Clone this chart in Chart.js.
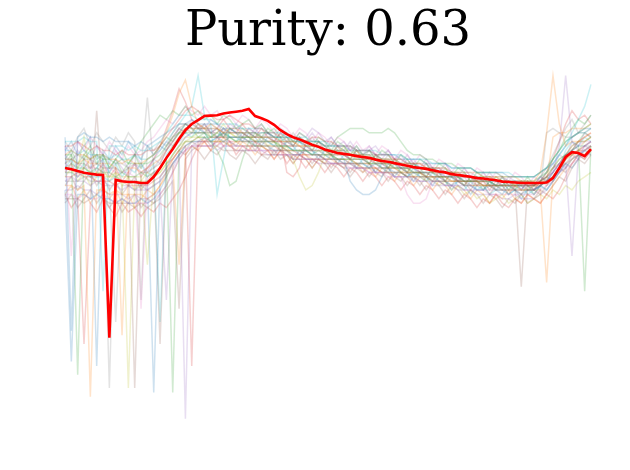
<!DOCTYPE html>
<html>
<head>
<meta charset="utf-8">
<script src="https://cdn.jsdelivr.net/npm/chart.js@4.4.1/dist/chart.umd.min.js"></script>
<style>
html,body{margin:0;padding:0;background:#fff;}
#wrap{width:630px;height:470px;}
</style>
</head>
<body>
<div id="wrap"><canvas id="c" width="630" height="470"></canvas></div>
<script>
const chartTitle = 'Purity: 0.63';

const meanProfile = [0,-0.3,-0.7,-1.1,-1.3,-1.5,-1.6,-38.6,-2.7,-3.0,-3.2,-3.2,-3.4,-3.4,
 -2.0,0,2.3,4.3,6.6,8.6,10.0,10.9,
 11.8,11.9,12.0,12.4,12.6,12.8,13.0,13.4,11.8,11.3,10.7,
 9.8,8.6,7.7,7.0,6.5,5.9,5.3,4.8,4.2,3.8,3.4,3.2,3.0,
 2.7,2.5,2.3,1.9,1.6,1.4,1.1,0.8,0.5,0.2,0,-0.2,-0.5,-0.8,-1.0,
 -1.4,-1.6,-1.8,-2.0,-2.3,-2.4,-2.6,-2.8,-3.1,-3.2,-3.3,-3.4,-3.4,-3.4,
 -3.4,-3.3,-2.3,0,2.5,3.6,3.4,2.7,4.3];

const seriesA = [-5,-44,-6,-6,-7,-6,-7,-7,-8,-7,-8,-8,-7,-8,
 -7,-5,-2,1,3,5,6,6,
 7,6,7,6,7,7,6,6,5,5,5,
 4,4,4,3,3,4,3,3,2,2,2,1,1,
 1,1,0,1,0,0,-1,-1,-2,-1,-2,-2,-3,-3,-3,
 -4,-3,-4,-4,-5,-5,-4,-5,-5,-6,-5,-6,-5,-5,
 -4,-3,-1,1,3,4,5,5,6];
const seriesB = [3,4,3,3,2,3,3,2,2,1,2,1,1,2,
 3,5,8,12,17,20,14,10,
 9,10,9,8,9,9,8,8,8,7,7,
 7,6,6,6,5,5,5,5,4,4,4,3,3,
 3,3,2,2,2,2,1,1,1,0,0,0,-1,-1,-1,
 -1,-2,-2,-2,-3,-3,-3,-2,-3,-3,-4,-3,-3,-3,
 -1,8,21,10,5,6,6,7,8];
const seriesC = [0,1,0,0,-1,0,-1,-1,-2,-1,-2,-2,-1,-2,
 -1,0,2,-51,4,6,6,7,
 7,7,8,7,7,6,7,7,6,6,6,
 6,5,5,4,4,4,3,4,3,3,2,2,2,
 2,2,1,1,1,1,0,0,0,-1,-1,-1,-1,-2,-2,
 -2,-2,-3,-3,-3,-3,-3,-4,-4,-3,-4,-4,-4,-4,
 -3,-2,0,2,3,4,5,-28,5];
const seriesD = [5,5,6,5,4,5,4,4,3,4,3,3,3,4,
 4,5,7,9,11,13,14,13,
 12,12,11,11,12,11,10,10,9,9,8,
 8,7,-1,-2,0,6,7,7,6,6,5,5,5,
 4,4,4,3,3,3,2,2,1,1,1,0,0,0,-1,
 -1,-1,-2,-2,-2,-3,-2,-3,-3,-3,-3,-3,-4,-4,
 -4,-3,-2,0,2,4,6,7,8];
const seriesE = [-3,-2,-3,-3,-4,-3,-3,-4,-4,-5,-4,-5,-5,-5,
 -4,-3,-1,1,3,-57,5,6,
 6,6,5,6,6,5,5,5,5,4,4,
 4,4,3,3,3,2,2,2,2,1,1,1,1,
 0,0,0,-1,-1,-1,-2,-2,-2,-3,-3,-3,-4,-4,-4,
 -4,-5,-5,-5,-6,-6,-6,-6,-7,-7,-6,-7,-7,-7,
 -6,-5,-3,-1,1,-20,3,4,5];
const seriesF = [1,2,1,1,0,1,0,0,0,-1,0,-50,-1,-1,
 0,1,4,7,9,10,9,9,
 9,8,8,9,8,8,8,7,7,7,6,
 6,6,5,5,5,4,4,4,4,3,3,3,2,
 2,2,2,1,1,1,0,0,0,-1,-1,-1,-2,-2,-2,
 -2,-3,-3,-3,-3,-3,-4,-4,-4,-4,-4,-27,-4,-4,
 -3,-2,-1,1,3,5,6,6,7];
const seriesG = [-6,-6,-7,-6,-7,-7,-6,-7,-8,-7,-8,-8,-8,-8,
 -7,-6,-4,-1,2,4,5,5,
 5,5,6,5,5,5,5,4,4,4,4,
 4,3,3,3,3,2,2,2,2,1,1,1,0,
 0,0,-1,-1,-1,-2,-2,-2,-6,-8,-8,-7,-3,-3,-4,
 -4,-4,-5,-5,-5,-5,-6,-6,-6,-6,-6,-6,-6,-6,
 -5,-4,-3,-1,0,1,2,3,3];
const seriesH = [2,2,3,2,2,1,2,-50,1,1,0,1,0,16,
 0,2,5,8,10,10,10,9,
 9,9,9,8,8,8,8,8,7,7,7,
 7,6,6,6,6,5,5,5,5,4,4,4,4,
 3,3,3,3,2,2,2,2,1,1,1,1,0,0,0,
 -1,-1,-1,-1,-2,-2,-2,-2,-2,-3,-3,-3,-3,-4,
 -5,8,9,8,7,7,8,8,9];
const seriesI = [-1,-1,0,7,-2,-1,-2,-2,-2,-3,-50,-3,-3,-3,
 -2,-1,1,3,5,6,7,7,
 7,6,6,6,7,6,6,6,5,5,5,
 5,5,4,4,4,4,3,3,3,3,2,2,2,
 1,1,1,1,0,0,0,-1,-1,-1,-1,-2,-2,-2,-2,
 -3,-3,-3,-3,-3,-4,-4,-4,-4,-4,-4,-5,-5,-4,
 -4,-3,-2,0,2,3,4,6,7];
const seriesJ = [4,4,3,4,3,3,3,2,3,2,2,3,2,2,
 3,4,6,8,10,12,14,21,
 12,10,-6,2,9,8,8,8,8,7,7,
 7,7,6,6,6,5,5,5,4,4,4,4,3,
 3,3,3,2,2,2,1,1,1,1,0,0,0,-1,-1,
 -1,-2,-2,-2,-2,-3,-3,-3,-3,-3,-3,-3,-3,-3,
 -2,-1,1,3,5,8,11,14,19];
const seriesK = [7,-37,7,8,7,7,6,7,6,6,6,5,6,5,
 6,7,8,9,10,10,11,10,
 10,10,10,9,9,9,9,8,8,8,8,
 7,7,7,7,6,6,6,6,5,5,5,5,4,
 4,4,4,3,3,3,3,2,2,2,2,1,1,1,1,
 0,0,0,0,-1,-1,-1,-1,-1,-2,-2,-2,-2,-2,
 -1,0,1,3,5,7,8,9,9];
const seriesL = [-4,-4,-5,-4,-52,-5,-5,-6,-5,-6,-6,-6,-6,-7,
 -6,-4,-1,2,4,6,6,7,
 6,6,6,6,5,6,5,5,5,5,4,
 4,4,4,3,3,3,2,2,2,2,1,1,1,
 1,0,0,0,-1,-1,-1,-1,-2,-2,-2,-2,-3,-3,-3,
 -3,-3,-4,-4,-4,-4,-4,-5,-5,-5,-5,-5,-5,-5,
 -5,-26,-2,0,2,3,4,4,5];
const seriesM = [3,3,-47,3,2,3,2,2,1,2,1,1,1,1,
 2,3,5,7,8,8,8,8,
 8,8,7,8,7,7,7,7,7,8,8,
 7,7,7,6,6,6,6,6,5,5,7,8,9,
 9,9,8,8,8,9,8,6,4,3,3,2,2,1,1,
 1,0,0,0,-1,-1,-1,-1,-2,-2,-2,-2,-2,-2,
 -1,0,2,4,6,7,8,9,10];
const seriesN = [-2,-2,-1,-2,-2,-3,-3,-3,-4,-3,-4,-4,-4,-4,
 -3,-2,0,2,4,5,-45,6,
 6,7,7,7,6,6,6,6,6,5,5,
 5,4,4,4,3,3,3,3,2,2,2,2,1,
 1,1,1,0,0,0,0,-1,-1,-1,-1,-2,-2,-2,-2,
 -3,-3,-3,-3,-3,-4,-4,-4,-4,-4,-4,-4,-4,-4,
 -3,-2,0,1,3,3,4,5,6];
const seriesO = [-5,-5,-4,-5,-5,-6,-5,-6,-6,-6,-7,-6,-7,-7,
 -6,-5,-30,0,3,4,5,5,
 5,5,4,5,5,4,4,4,4,4,3,
 3,3,3,2,2,2,2,1,1,1,1,0,0,
 0,0,-1,-1,-1,-1,-2,-2,-2,-2,-3,-3,-3,-3,-4,
 -4,-4,-4,-4,-5,-5,-5,-5,-5,-5,-5,-5,-5,-5,
 -4,-3,-1,5,21,6,4,4,5];
const seriesP = [-7,-7,-7,-8,-7,13,-7,-8,-8,-8,-8,-9,-8,-9,
 -8,-7,-5,-3,-32,2,4,5,
 5,5,5,4,4,4,4,4,4,3,3,
 3,3,3,2,2,2,2,2,1,1,1,1,1,
 0,0,0,0,-1,-1,-1,-1,-2,-2,-2,-2,-2,-3,-3,
 -3,-3,-3,-4,-4,-4,-4,-4,-4,-4,-4,-4,-5,-5,
 -6,-4,-2,0,1,2,3,3,4];
const seriesQ = [1,0,1,0,0,0,-1,0,-1,-1,-1,-2,-32,-2,
 -1,0,2,4,6,7,8,8,
 8,8,7,7,7,7,7,7,6,6,6,
 6,6,5,5,5,4,4,4,3,3,3,3,2,
 2,2,2,1,1,1,1,0,0,0,-1,-1,-1,-1,-2,
 -2,-2,-2,-2,-3,-3,-3,-3,-3,-3,-3,-4,-4,-4,
 -3,-2,-1,1,2,4,5,6,6];
const seriesR = [-3,-3,-3,-2,-3,-3,-4,-4,-35,-4,-4,-5,-4,-5,
 -4,-3,-1,1,3,5,6,6,
 6,6,6,6,5,5,5,5,5,5,4,
 5,5,4,4,4,3,3,3,3,2,2,2,2,
 1,1,1,1,0,0,0,0,-1,-1,-1,-1,-2,-2,-2,
 -2,-3,-3,-3,-3,-4,-4,-4,-5,-5,-5,-5,-5,-5,
 -4,-3,-2,0,1,3,4,5,5];
const seriesS = [0,0,-1,0,-1,-1,-1,-2,-1,-2,-2,-2,-2,-22,
 -2,-1,1,3,5,7,7,8,
 8,7,7,7,8,7,7,7,6,6,6,
 6,5,5,5,5,4,4,4,4,3,3,3,3,
 2,2,2,2,1,1,1,1,0,0,0,0,-1,-1,-1,
 -1,-1,-2,-2,-2,-2,-2,-3,-3,-3,-3,-3,-3,-3,
 -2,-1,0,2,3,5,6,6,7];
const seriesT = [6,6,6,7,6,6,-28,5,5,5,4,5,4,4,
 5,6,8,10,12,12,12,11,
 11,11,10,10,10,10,9,9,9,9,8,
 8,8,7,7,7,7,6,6,6,5,5,5,5,
 4,4,4,4,3,3,3,3,2,2,2,2,1,1,1,
 0,0,0,0,-1,-1,-1,-1,-1,-1,-2,-2,-2,-2,
 -1,0,2,4,6,7,8,8,9];
const seriesU = [-1,-1,-2,-1,-2,-2,-2,-3,-2,-3,-3,-3,-4,-3,
 -51,-2,0,3,5,7,8,8,
 8,7,7,8,7,7,7,6,6,6,6,
 5,5,5,4,4,4,4,3,3,3,2,2,-3,
 -5,-6,-6,-5,-2,1,1,0,0,0,-1,-1,-1,-1,-2,
 -2,-2,-3,-3,-3,-3,-3,-4,-4,-4,-4,-4,-4,-5,
 -4,-3,-2,-1,0,2,3,4,5];
const seriesV = [2,2,1,2,1,1,1,1,0,-38,0,0,-1,0,
 1,2,4,6,8,9,9,9,
 9,9,9,8,8,8,8,7,7,7,7,
 6,6,6,6,5,5,5,5,4,4,4,4,3,
 3,3,3,2,2,2,2,1,1,1,1,0,0,0,0,
 -1,-1,-1,-1,-1,-2,-2,-2,-2,-2,-2,-3,-3,-3,
 -3,-3,7,8,8,9,9,9,10];
const seriesW = [2,4,1,3,5,2,3,0,2,4,1,3,6,8,
 10,12,11,13,12,14,12,13,
 11,12,10,12,11,9,10,11,9,10,8,
 9,7,8,6,8,7,5,7,6,4,6,5,3,
 5,3,4,2,4,3,1,3,2,0,2,1,-1,1,0,
 -2,0,-1,-3,-1,-2,-4,-2,-3,-5,-3,-4,-2,-4,
 -3,-1,2,4,7,9,11,10,12];
const seriesX = [-6,-9,-7,-40,-8,-10,-7,-9,-11,-8,-10,-9,-11,-9,
 -10,-8,-9,-7,-5,-2,2,5,
 6,4,7,5,6,3,5,4,6,3,4,
 2,4,1,3,2,0,2,1,-1,1,0,-2,0,
 -1,-3,-1,-2,-4,-2,-3,-5,-3,-4,-6,-4,-5,-7,-5,
 -6,-8,-6,-7,-9,-7,-8,-6,-8,-9,-7,-8,-6,-7,
 -8,-6,-7,-5,-2,1,3,2,4];
const seriesY = [3,1,4,2,0,3,1,-1,2,0,-2,1,-1,0,
 2,1,4,6,9,8,11,10,
 9,11,10,8,10,9,7,9,8,10,8,
 7,9,8,6,8,7,9,8,6,7,5,6,4,
 5,3,4,5,3,4,2,3,1,2,0,1,-1,0,-2,
 -1,-3,-2,-4,-2,-3,-1,-3,-4,-2,-3,-5,-3,-4,
 -2,-3,0,3,2,6,5,8,7];
const seriesZ = [-4,-2,-5,-3,-1,-4,-2,-5,-3,-6,-4,-2,-5,-3,
 -1,-40,1,2,4,3,5,4,
 2,4,3,5,3,2,4,3,1,3,2,
 4,2,3,1,3,2,0,2,1,-1,1,0,-2,
 0,-1,1,-1,-2,0,-2,-3,-1,-2,-4,-2,-3,-1,-3,
 -4,-2,-3,-5,-3,-4,-6,-4,-5,-3,-5,-6,-4,-5,
 -3,-4,-2,0,-1,1,3,2,4];
const seriesAA = [5,-20,6,4,7,5,3,6,4,2,5,3,4,6,
 7,9,11,10,12,14,13,12,
 14,12,13,11,12,10,12,11,9,11,10,
 8,10,9,7,9,8,6,8,7,5,7,6,4,
 6,4,5,3,5,4,2,4,3,1,3,2,0,2,1,
 -1,1,0,-2,0,-1,-3,-1,-2,-3,-1,-2,-4,-2,
 -3,-1,1,-1,2,4,3,5,6];
const seriesAB = [6,4,7,9,5,8,6,4,7,5,8,6,-30,5,
 4,6,5,7,9,8,10,9,
 8,10,9,7,9,8,7,9,8,6,8,
 7,5,6,8,6,5,7,5,4,6,4,3,5,
 3,2,4,2,1,3,1,0,2,0,-1,1,-1,-2,0,
 -2,-3,-1,-3,-4,-2,-4,-5,-3,-5,-4,-3,-5,-4,
 -2,0,3,6,9,11,8,10,12];
const seriesAC = [-2,0,-3,-1,-4,-2,0,-3,-1,-4,-2,-5,-3,-1,
 -2,0,2,5,7,9,8,10,
 9,7,8,10,8,7,9,8,6,7,5,
 6,4,5,2,-2,-5,-4,-1,3,4,3,5,3,
 4,2,3,1,2,0,1,-1,0,-2,-1,-3,-2,-4,-3,
 -5,-4,-6,-5,-7,-6,-8,-7,-6,-8,-7,-6,-8,-7,
 -6,-7,-5,-6,-4,-5,-3,-2,-1];
const seriesAD = [0,2,-1,1,-2,0,2,-1,1,-2,0,-1,1,-2,
 1,-35,3,5,6,8,7,9,
 8,6,7,9,7,6,8,7,5,7,6,
 5,7,5,4,6,4,3,5,3,2,4,2,1,
 3,1,0,2,0,-1,1,-1,-2,0,-2,-3,-1,-3,-4,
 -2,-4,-5,-3,-5,-4,-6,-5,-4,-6,-5,-4,-6,-5,
 -4,-5,-3,0,4,6,5,7,6];
const seriesAE = [4,6,3,5,7,-45,4,2,5,3,6,4,2,5,
 3,5,4,6,8,10,9,8,
 10,8,9,7,9,8,6,8,7,5,7,
 6,4,6,5,3,5,4,2,4,3,1,3,2,
 0,2,1,-1,1,0,-2,0,-1,-3,-1,-2,-4,-2,-3,
 -5,-3,-4,-6,-4,-5,-3,-5,-6,-4,-5,-7,-5,-6,
 -4,-5,-3,-1,1,0,2,4,3];
const seriesAF = [-6,-4,-7,-5,-8,-6,-4,-7,-5,-8,-6,-9,-7,-5,
 -6,-4,-2,1,-22,3,5,4,
 6,4,5,7,5,4,6,5,3,5,4,
 2,4,3,1,3,2,0,2,1,3,1,0,2,
 1,-1,0,-2,0,-1,-3,-1,-2,-4,-2,-3,-5,-3,-4,
 -6,-4,-5,-7,-5,-6,-8,-6,-7,-5,-7,-8,-6,-7,
 -8,-6,-4,-2,0,2,4,3,5];
const seriesAG = [1,3,0,2,4,1,3,0,2,-1,1,3,0,2,
 3,5,7,6,8,10,9,7,
 8,6,4,1,-4,-3,2,6,8,7,9,
 8,6,7,5,7,6,4,6,5,3,5,4,2,
 4,3,1,3,2,0,2,1,-1,1,0,-2,0,-1,-3,
 -1,-2,-4,-2,-3,-5,-3,-4,-2,-4,-5,-3,-4,-6,
 -4,-2,-3,-1,2,4,6,8,7];
const seriesAH = [-1,1,-2,0,2,-1,1,-2,0,-3,-1,1,-2,0,
 2,5,9,13,18,15,11,9,
 10,8,9,11,9,8,10,8,7,9,7,
 6,8,6,5,7,5,4,6,4,3,5,3,2,
 4,2,1,3,1,0,2,0,-1,1,-1,-2,0,-2,-3,
 -1,-3,-4,-2,-4,-3,-5,-3,-4,-6,-4,-5,-3,-5,
 -3,-1,2,6,10,13,11,12,10];
const seriesAI = [5,3,6,4,2,5,3,1,4,2,0,3,1,-1,
 2,4,6,5,7,9,8,10,
 8,9,7,9,8,10,8,7,9,7,8,
 6,8,7,5,7,6,8,6,5,7,5,4,6,
 4,3,5,3,2,4,2,1,3,1,0,2,0,-1,1,
 -1,-2,0,-2,-3,-1,-3,-4,-2,-4,-3,-5,-3,-4,
 -2,-3,-1,1,0,3,2,5,4];
const seriesAJ = [-8,-6,-9,-7,-5,-8,-6,-9,-7,-10,-8,-6,-9,-7,
 -8,-6,-4,-1,2,4,6,5,
 7,5,6,8,6,5,7,6,4,6,5,
 3,5,4,2,4,3,1,3,2,0,2,1,-1,
 1,0,-2,0,-1,-3,-1,-2,-4,-2,-3,-5,-3,-4,-6,
 -4,-5,-7,-5,-6,-8,-6,-7,-9,-7,-8,-6,-8,-7,
 -5,-6,-4,-2,-3,0,2,1,3];

const memberSeries = [seriesA,seriesB,seriesC,seriesD,seriesE,seriesF,seriesG,seriesH,seriesI,seriesJ,seriesK,
  seriesL,seriesM,seriesN,seriesO,seriesP,seriesQ,seriesR,seriesS,seriesT,seriesU,seriesV,
  seriesW,seriesX,seriesY,seriesZ,seriesAA,seriesAB,seriesAC,seriesAD,seriesAE,seriesAF,seriesAG,seriesAH,seriesAI,seriesAJ];
const palette = ['31,119,180','255,127,14','44,160,44','214,39,40','148,103,189','140,86,75','227,119,194','127,127,127','188,189,34','23,190,207'];

const timeSteps = meanProfile.map((_, i) => i);

const datasets = [{
  data: meanProfile, borderColor: '#ff0000', borderWidth: 2.6, pointRadius: 0, tension: 0, fill: false, order: 0
}];
memberSeries.forEach((s, k) => {
  datasets.push({
    data: s, borderColor: 'rgba(' + palette[k % 10] + ',0.22)', borderWidth: 1.5,
    pointRadius: 0, tension: 0, fill: false, order: 1
  });
});

new Chart(document.getElementById('c'), {
  type: 'line',
  data: { labels: timeSteps, datasets: datasets },
  options: {
    responsive: false,
    animation: false,
    devicePixelRatio: 1,
    layout: { padding: { left: 65, right: 39, top: 0, bottom: 40 } },
    scales: {
      x: { display: false },
      y: { display: false, min: -59.55, max: 22.36 }
    },
    plugins: {
      legend: { display: false },
      tooltip: { enabled: false },
      title: {
        display: true, text: chartTitle, color: '#000',
        font: { family: "'DejaVu Serif', serif", size: 48, weight: 'normal' },
        padding: { top: 4, bottom: 8 }
      }
    }
  }
});
</script>
</body>
</html>
